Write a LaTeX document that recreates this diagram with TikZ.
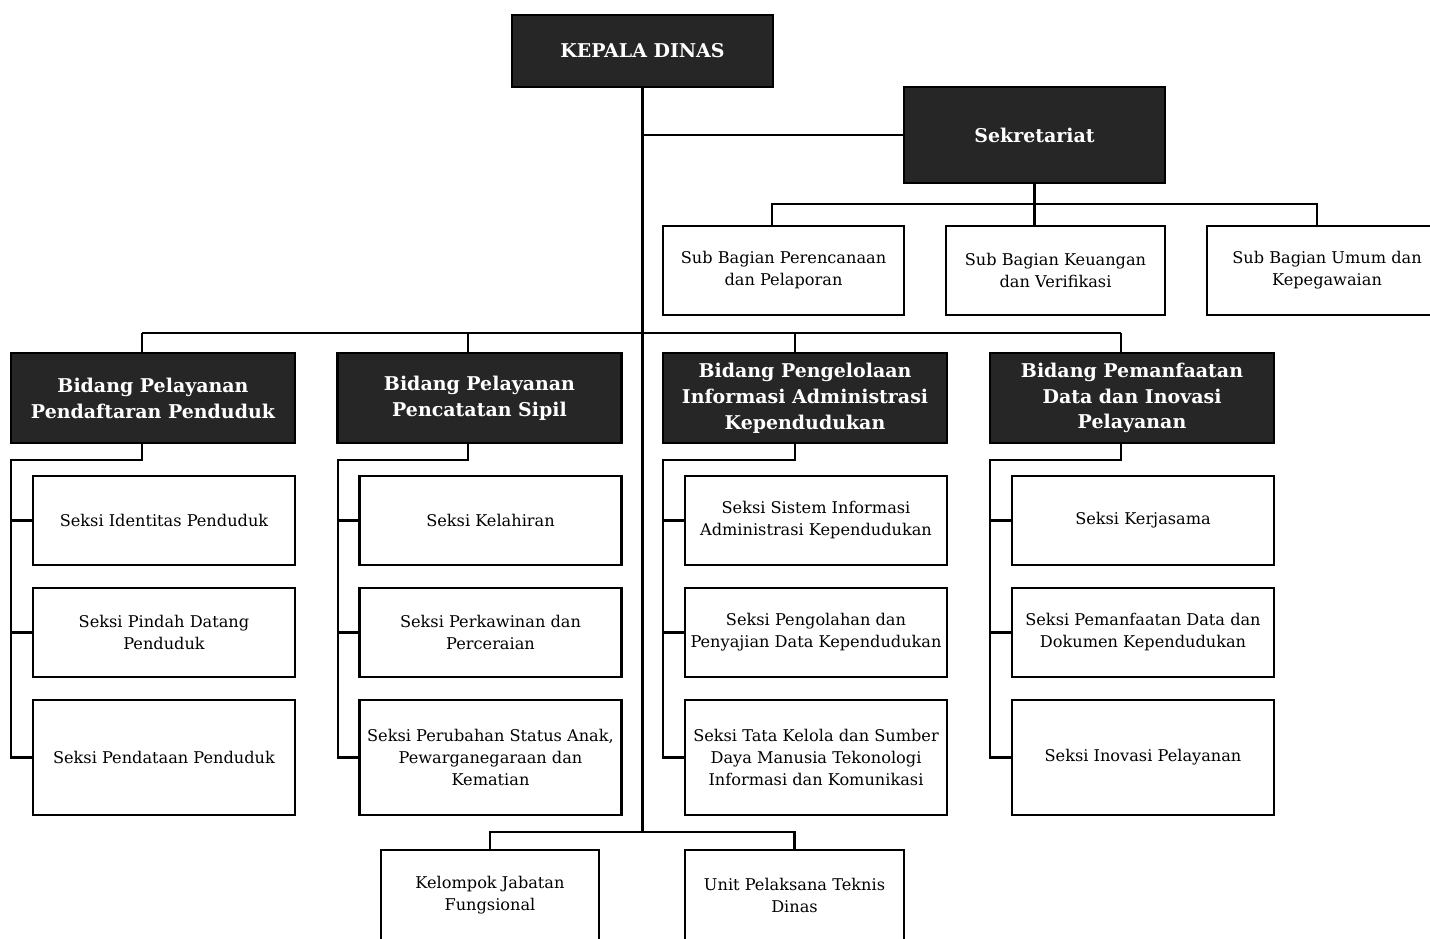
\documentclass[tikz,border=0pt]{standalone}
\usepackage{fontspec}
\setmainfont{DejaVu Serif}
\usetikzlibrary{positioning}
\definecolor{headfill}{HTML}{262626}

\begin{document}
\begin{tikzpicture}[x=0.02cm, y=-0.02cm,
  wh/.style 2 args={minimum width=#1*0.02cm, minimum height=#2*0.02cm},
  head/.style={draw=black, fill=headfill, text=white, align=center, inner sep=0pt,
    line width=1.3pt, font=\bfseries\fontsize{10.8}{14.7}\selectfont},
  unit/.style={draw=black, fill=white, align=center, inner sep=0pt,
    line width=1.3pt, font=\fontsize{9.2}{12.5}\selectfont},
  link/.style={line width=1.4pt}]
\useasboundingbox (0,0) rectangle (1430,938);

% Define nodes
\node[head, wh={261}{72}] (kadis) at (642.5,51) {KEPALA DINAS};
\node[head, wh={261}{96}] (sekre) at (1034.5,135) {Sekretariat};

\node[unit, wh={241}{89}] (sb1) at (783.5,270.5) {Sub Bagian Perencanaan\\dan Pelaporan};
\node[unit, wh={219}{89}] (sb2) at (1055.5,270.5) {Sub Bagian Keuangan\\dan Verifikasi};
\node[unit, wh={240}{89}] (sb3) at (1327,270.5) {Sub Bagian Umum dan\\Kepegawaian};

\node[head, wh={284}{90}] (b1) at (153,398) {Bidang Pelayanan\\Pendaftaran Penduduk};
\node[head, wh={284}{90}] (b2) at (479.5,398) {Bidang Pelayanan\\Pencatatan Sipil};
\node[head, wh={284}{90}] (b3) at (805,398) {Bidang Pengelolaan\\Informasi Administrasi\\Kependudukan};
\node[head, wh={284}{90}] (b4) at (1132,398) {Bidang Pemanfaatan\\Data dan Inovasi\\Pelayanan};

\node[unit, wh={262}{89}] (s11) at (164,520.5) {Seksi Identitas Penduduk};
\node[unit, wh={262}{89}] (s12) at (164,632.5) {Seksi Pindah Datang\\Penduduk};
\node[unit, wh={262}{115}] (s13) at (164,757.5) {Seksi Pendataan Penduduk};

\node[unit, wh={262}{89}] (s21) at (490.5,520.5) {Seksi Kelahiran};
\node[unit, wh={262}{89}] (s22) at (490.5,632.5) {Seksi Perkawinan dan\\Perceraian};
\node[unit, wh={262}{115}] (s23) at (490.5,757.5) {Seksi Perubahan Status Anak,\\Pewarganegaraan dan\\Kematian};

\node[unit, wh={262}{89}] (s31) at (816,520.5) {Seksi Sistem Informasi\\Administrasi Kependudukan};
\node[unit, wh={262}{89}] (s32) at (816,632.5) {Seksi Pengolahan dan\\Penyajian Data Kependudukan};
\node[unit, wh={262}{115}] (s33) at (816,757.5) {Seksi Tata Kelola dan Sumber\\Daya Manusia Tekonologi\\Informasi dan Komunikasi};

\node[unit, wh={262}{89}] (s41) at (1143,520.5) {Seksi Kerjasama};
\node[unit, wh={262}{89}] (s42) at (1143,632.5) {Seksi Pemanfaatan Data dan\\Dokumen Kependudukan};
\node[unit, wh={262}{115}] (s43) at (1143,757.5) {Seksi Inovasi Pelayanan};

\node[unit, wh={218}{90}] (u1) at (490,895) {Kelompok Jabatan\\Fungsional};
\node[unit, wh={219}{90}] (u2) at (794.5,895) {Unit Pelaksana Teknis\\Dinas};

% Connectors
\coordinate (kbus) at (642.5,832);
\coordinate (bbus) at (642.5,333);
\coordinate (sa) at (772,204);
\coordinate (sc) at (1317,204);

\draw[link] (kadis.south) -- (kbus);
\draw[link] (kadis.south |- sekre.west) -- (sekre.west);
\draw[link] (sekre.south) -- (sekre.south |- sb2.north);
\draw[link] (sa |- sb1.north) -- (sa) -- (sc) -- (sc |- sb3.north);

\foreach \i/\L/\D in {1/11/142, 2/338/468, 3/663/795, 4/990/1121} {
  \path (\D,460) coordinate (t\i) (\L,460) coordinate (l\i);
  \draw[link] (t\i |- b\i.south) -- (t\i) -- (l\i) |- (s\i3.west);
  \draw[link] (l\i |- s\i1.west) -- (s\i1.west);
  \draw[link] (l\i |- s\i2.west) -- (s\i2.west);
  \draw[link] (t\i |- b\i.north) -- (t\i |- bbus);
}
\draw[link] (t1 |- bbus) -- (t4 |- bbus);

\draw[link] (u1.north) |- (kbus) -| (u2.north);

\end{tikzpicture}
\end{document}
